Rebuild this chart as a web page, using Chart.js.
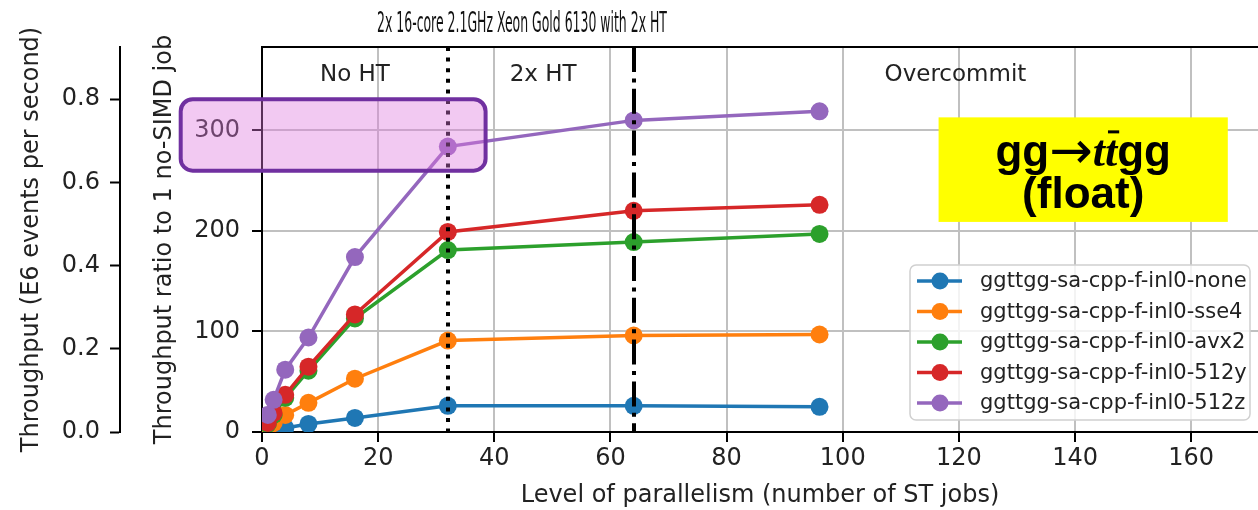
<!DOCTYPE html>
<html>
<head>
<meta charset="utf-8">
<script src="https://cdn.jsdelivr.net/npm/chart.js@4.4.1/dist/chart.umd.min.js"></script>
<style>
  html, body { margin: 0; padding: 0; background: #fff; }
  #wrap { width: 1258px; height: 510px; }
</style>
</head>
<body>
<div id="wrap"><canvas id="chart" width="1258" height="510"></canvas></div>
<script>
// --- DATA ---
const jobs = [1, 2, 4, 8, 16, 32, 64, 96];
const seriesNames = [
  'ggttgg-sa-cpp-f-inl0-none',
  'ggttgg-sa-cpp-f-inl0-sse4',
  'ggttgg-sa-cpp-f-inl0-avx2',
  'ggttgg-sa-cpp-f-inl0-512y',
  'ggttgg-sa-cpp-f-inl0-512z'
];
const seriesColors = ['#1f77b4', '#ff7f0e', '#2ca02c', '#d62728', '#9467bd'];
const ratioNone = [1, 2, 4, 8, 14, 26, 26, 25];
const ratioSse4 = [4, 9, 17, 29, 53, 91, 96, 97];
const ratioAvx2 = [8, 17, 34, 61, 113, 181, 189, 197];
const ratio512y = [9, 19, 37, 65, 117, 199, 220, 226];
const ratio512z = [17, 32, 62, 94, 174, 284, 310, 319];
const allSeries = [ratioNone, ratioSse4, ratioAvx2, ratio512y, ratio512z];

const xTicks = [0, 20, 40, 60, 80, 100, 120, 140, 160];
const ratioTicks = [0, 100, 200, 300];
const throughputTicks = [0, 0.2, 0.4, 0.6, 0.8];
const xMax = 171.5, ratioMax = 383, throughputMax = 0.925;

const htBoundaries = [32, 64];           // dotted, dash-dot
const regionLabels = ['No HT', '2x HT', 'Overcommit'];
const regionLabelX = [16, 48.4, 119.4];
const regionLabelY = 355;

const highlightX = [-14, 38.5];          // purple box around 300 level
const highlightY = [260, 331];
const processX = [116.5, 166.3];         // yellow process box
const processY = [209, 313];

const titleText = '2x 16-core 2.1GHz Xeon Gold 6130 with 2x HT';

// --- HELPERS ---
function roundRect(ctx, x, y, w, h, r) {
  ctx.beginPath();
  ctx.moveTo(x + r, y);
  ctx.arcTo(x + w, y, x + w, y + h, r);
  ctx.arcTo(x + w, y + h, x, y + h, r);
  ctx.arcTo(x, y + h, x, y, r);
  ctx.arcTo(x, y, x + w, y, r);
  ctx.closePath();
}

const decor = {
  id: 'decor',
  afterDatasetsDraw(chart) {
    const {ctx, chartArea: a, scales: {x, y}} = chart;
    ctx.save();
    ctx.strokeStyle = '#000';
    ctx.lineWidth = 4;
    const dashes = [[4, 6.6], [25, 6.4, 4, 6.4]];
    htBoundaries.forEach((v, i) => {
      const px = Math.round(x.getPixelForValue(v));
      ctx.setLineDash(dashes[i]);
      ctx.beginPath();
      ctx.moveTo(px, a.top);
      ctx.lineTo(px, a.bottom);
      ctx.stroke();
    });
    ctx.setLineDash([]);
    ctx.fillStyle = '#222';
    ctx.font = '23px "DejaVu Sans"';
    ctx.textAlign = 'center';
    ctx.textBaseline = 'middle';
    regionLabels.forEach((t, i) => {
      ctx.fillText(t, x.getPixelForValue(regionLabelX[i]), y.getPixelForValue(regionLabelY));
    });
    ctx.restore();
  },
  afterDraw(chart) {
    const {ctx, chartArea: a, scales: {x, y}} = chart;
    ctx.save();
    // top spine
    ctx.strokeStyle = '#000';
    ctx.lineWidth = 2;
    ctx.beginPath();
    ctx.moveTo(a.left, a.top);
    ctx.lineTo(a.right, a.top);
    ctx.stroke();

    // title (squeezed like the original)
    ctx.fillStyle = '#111';
    ctx.font = '28px "DejaVu Sans"';
    ctx.textAlign = 'center';
    ctx.textBaseline = 'middle';
    ctx.translate(522, 25);
    ctx.scale(0.445, 1);
    ctx.fillText(titleText, 0, 0);
    ctx.setTransform(1, 0, 0, 1, 0, 0);

    // purple highlight box
    const hx0 = x.getPixelForValue(highlightX[0]), hx1 = x.getPixelForValue(highlightX[1]);
    const hy0 = y.getPixelForValue(highlightY[1]), hy1 = y.getPixelForValue(highlightY[0]);
    roundRect(ctx, hx0, hy0, hx1 - hx0, hy1 - hy0, 12);
    ctx.fillStyle = 'rgba(222,120,222,0.4)';
    ctx.fill();
    ctx.strokeStyle = '#7030a0';
    ctx.lineWidth = 4;
    ctx.stroke();

    // yellow process box
    const px0 = x.getPixelForValue(processX[0]), px1 = x.getPixelForValue(processX[1]);
    const py0 = y.getPixelForValue(processY[1]), py1 = y.getPixelForValue(processY[0]);
    ctx.fillStyle = '#ffff00';
    ctx.fillRect(px0, py0, px1 - px0, py1 - py0);
    const cx = (px0 + px1) / 2;
    ctx.fillStyle = '#000';
    ctx.textBaseline = 'alphabetic';
    ctx.textAlign = 'left';
    const bold = 'bold 44px "Liberation Sans"';
    const arrow = '52px "DejaVu Sans"';
    const ital = 'italic bold 44px "Liberation Serif"';
    const parts = [['gg', bold], ['\u2192', arrow], ['t', ital], ['t', ital], ['gg', bold]];
    let w = 0;
    parts.forEach(p => { ctx.font = p[1]; w += ctx.measureText(p[0]).width; });
    let tx = cx - w / 2;
    const base1 = py0 + 49;
    parts.forEach((p, i) => {
      ctx.font = p[1];
      const pw = ctx.measureText(p[0]).width;
      ctx.fillText(p[0], tx, p[1] === arrow ? base1 + 2 : base1);
      if (i === 3) ctx.fillRect(tx + 3, base1 - 36, pw - 1, 3);
      tx += pw;
    });
    ctx.font = bold;
    ctx.textAlign = 'center';
    ctx.fillText('(float)', cx, py0 + 91);

    // legend
    const lx = 910, ly = 265, lw = 340, lh = 155;
    roundRect(ctx, lx, ly, lw, lh, 6);
    ctx.fillStyle = 'rgba(255,255,255,0.8)';
    ctx.fill();
    ctx.strokeStyle = '#d0d0d0';
    ctx.lineWidth = 1.5;
    ctx.stroke();
    ctx.font = '21px "DejaVu Sans"';
    ctx.textAlign = 'left';
    ctx.textBaseline = 'middle';
    chart.data.datasets.forEach((ds, i) => {
      const ry = ly + 16 + i * 30.5;
      ctx.strokeStyle = ds.borderColor;
      ctx.lineWidth = 3.5;
      ctx.beginPath();
      ctx.moveTo(lx + 7, ry);
      ctx.lineTo(lx + 52, ry);
      ctx.stroke();
      ctx.fillStyle = ds.borderColor;
      ctx.beginPath();
      ctx.arc(lx + 30, ry, 8.5, 0, Math.PI * 2);
      ctx.fill();
      ctx.fillStyle = '#222';
      ctx.fillText(ds.label, lx + 70, ry + 1);
    });
    ctx.restore();
  }
};

// --- CHART ---
const datasets = seriesNames.map((name, i) => ({
  label: name,
  data: jobs.map((j, k) => ({x: j, y: allSeries[i][k]})),
  borderColor: seriesColors[i],
  backgroundColor: seriesColors[i],
  borderWidth: 3.5,
  pointRadius: 9,
  pointBorderWidth: 0,
  pointHoverRadius: 9,
  tension: 0,
  order: seriesNames.length - i,
  yAxisID: 'y'
}));

const tickFont = {family: 'DejaVu Sans', size: 24};
const titleFont = {family: 'DejaVu Sans', size: 24};

new Chart(document.getElementById('chart'), {
  type: 'line',
  data: {datasets},
  options: {
    responsive: false,
    animation: false,
    devicePixelRatio: 1,
    layout: {autoPadding: false, padding: {top: 47, left: 0, right: 0, bottom: 0}},
    plugins: {legend: {display: false}, tooltip: {enabled: false}, title: {display: false}},
    scales: {
      x: {
        type: 'linear', min: 0, max: xMax,
        afterBuildTicks: s => { s.ticks = xTicks.map(v => ({value: v})); },
        afterFit: s => { s.height = 78; },
        ticks: {font: tickFont, color: '#222', padding: 2, maxRotation: 0, includeBounds: false},
        grid: {color: '#c0c0c0', lineWidth: 2, tickLength: 10, tickColor: '#000', tickWidth: 2},
        border: {color: '#000', width: 2},
        title: {display: true, text: 'Level of parallelism (number of ST jobs)', font: titleFont, color: '#222', padding: {top: 0, bottom: 0}}
      },
      y: {
        position: 'left', weight: 0, min: 0, max: ratioMax,
        afterBuildTicks: s => { s.ticks = ratioTicks.map(v => ({value: v})); },
        afterFit: s => { s.width = 142; },
        ticks: {font: tickFont, color: '#222', padding: 12, includeBounds: false},
        grid: {color: '#c0c0c0', lineWidth: 2, tickLength: 10, tickColor: '#000', tickWidth: 2},
        border: {color: '#000', width: 2},
        title: {display: true, text: 'Throughput ratio to 1 no-SIMD job', font: titleFont, color: '#222', padding: {top: 30, bottom: 0}}
      },
      y2: {
        position: 'left', weight: 1, min: 0, max: throughputMax,
        afterBuildTicks: s => { s.ticks = throughputTicks.map(v => ({value: v})); },
        afterFit: s => { s.width = 120; },
        ticks: {font: tickFont, color: '#222', padding: 10, includeBounds: false, callback: v => v.toFixed(1)},
        grid: {drawOnChartArea: false, tickLength: 10, tickColor: '#000', tickWidth: 2},
        border: {color: '#000', width: 2},
        title: {display: true, text: 'Throughput (E6 events per second)', font: titleFont, color: '#222', padding: {top: 17, bottom: 0}}
      }
    }
  },
  plugins: [decor]
});
</script>
</body>
</html>
